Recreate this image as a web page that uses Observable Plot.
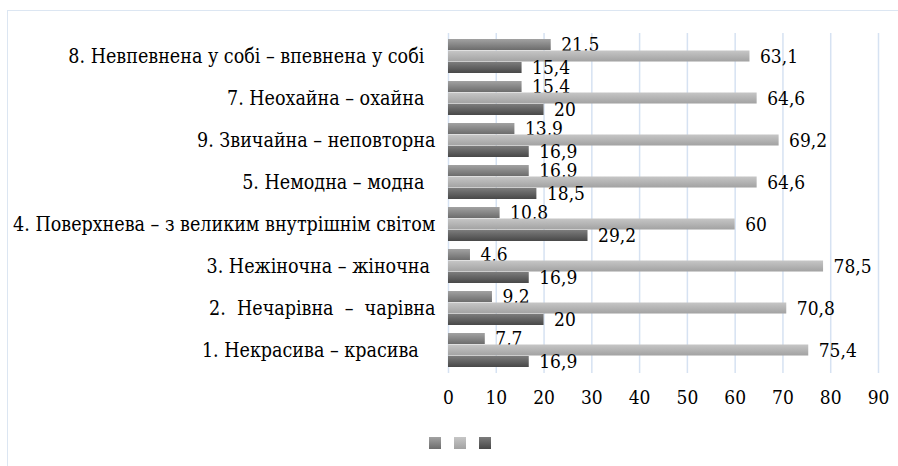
<!DOCTYPE html>
<html>
<head>
<meta charset="utf-8">
<script src="https://cdn.jsdelivr.net/npm/d3@7"></script>
<script src="https://cdn.jsdelivr.net/npm/@observablehq/plot@0.6"></script>
<style>
  html, body { margin: 0; padding: 0; background: #fff; width: 898px; height: 466px; overflow: hidden; }
  #frame { position: absolute; left: 7px; top: 10px; width: 920px; height: 480px; border: 1.5px solid #dce6f2; box-sizing: border-box; }
  #chart { position: absolute; left: 0; top: 0; }
  #chart svg text { font-stretch: condensed; }
  #legend { position: absolute; left: 429px; top: 437px; display: flex; gap: 13px; }
  #legend span { width: 12px; height: 12px; display: inline-block; }
</style>
</head>
<body>
<div id="frame"></div>
<div id="chart"></div>
<div id="legend"></div>
<script>
const categories = [
  "8. Невпевнена у собі – впевнена у собі  ",
  "7. Неохайна – охайна  ",
  "9. Звичайна – неповторна",
  "5. Немодна – модна  ",
  "4. Поверхнева – з великим внутрішнім світом",
  "3. Нежіночна – жіночна ",
  "2.  Нечарівна  –  чарівна",
  "1. Некрасива – красива   "
];
const series1 = [21.5, 15.4, 13.9, 16.9, 10.8, 4.6, 9.2, 7.7];
const series2 = [63.1, 64.6, 69.2, 64.6, 60, 78.5, 70.8, 75.4];
const series3 = [15.4, 20, 16.9, 18.5, 29.2, 16.9, 20, 16.9];
const xTicks = [0, 10, 20, 30, 40, 50, 60, 70, 80, 90];

const gradients = [
  {id: "g1", top: "#a2a2a2", bottom: "#6c6c6c"},
  {id: "g2", top: "#c6c6c6", bottom: "#a2a2a2"},
  {id: "g3", top: "#7c7c7c", bottom: "#484848"}
];

const seriesList = [series1, series2, series3];
const bw = 340 / (categories.length - 0.19 + 0.18) * 0.81;
const third = bw / 3;
const fmt = v => String(v).replace(".", ",");
const FONT = "DejaVu Serif Condensed, DejaVu Serif, serif";

const marks = [Plot.gridX(xTicks, {stroke: "#d6e2f2", strokeOpacity: 1, strokeWidth: 1.5})];
seriesList.forEach((vals, i) => {
  const data = categories.map((c, j) => ({cat: c, v: vals[j]}));
  marks.push(Plot.barX(data, {
    x: "v", y: "cat",
    fill: `url(#${gradients[i].id})`,
    insetTop: i * third,
    insetBottom: (2 - i) * third
  }));
  marks.push(Plot.text(data, {
    x: "v", y: "cat",
    text: d => fmt(d.v),
    textAnchor: "start",
    dx: 10,
    dy: (i - 1) * third,
    fontSize: 19,
    fontFamily: FONT,
    fill: "#000"
  }));
});
marks.push(Plot.axisX({ticks: xTicks, tickSize: 0, tickPadding: 17, label: null, fontSize: 19, fontFamily: FONT}));
marks.push(Plot.axisY({tickSize: 0, tickPadding: 13, label: null, fontSize: 19.5, fontFamily: FONT}));

const chart = Plot.plot({
  width: 898,
  height: 420,
  marginTop: 33,
  marginBottom: 47,
  marginLeft: 448,
  marginRight: 20,
  style: {background: "transparent", color: "#000"},
  x: {domain: [0, 90], label: null},
  y: {domain: categories, paddingInner: 0.19, paddingOuter: 0.09, label: null},
  marks
});

const svg = d3.select(chart);
const defs = svg.insert("defs", ":first-child");
gradients.forEach(g => {
  const lg = defs.append("linearGradient").attr("id", g.id).attr("x1", 0).attr("y1", 0).attr("x2", 0).attr("y2", 1);
  lg.append("stop").attr("offset", "0%").attr("stop-color", g.top);
  lg.append("stop").attr("offset", "100%").attr("stop-color", g.bottom);
});
document.getElementById("chart").appendChild(chart);

const legend = d3.select("#legend");
gradients.forEach(g => {
  legend.append("span").style("background", `linear-gradient(${g.top}, ${g.bottom})`);
});
</script>
</body>
</html>
